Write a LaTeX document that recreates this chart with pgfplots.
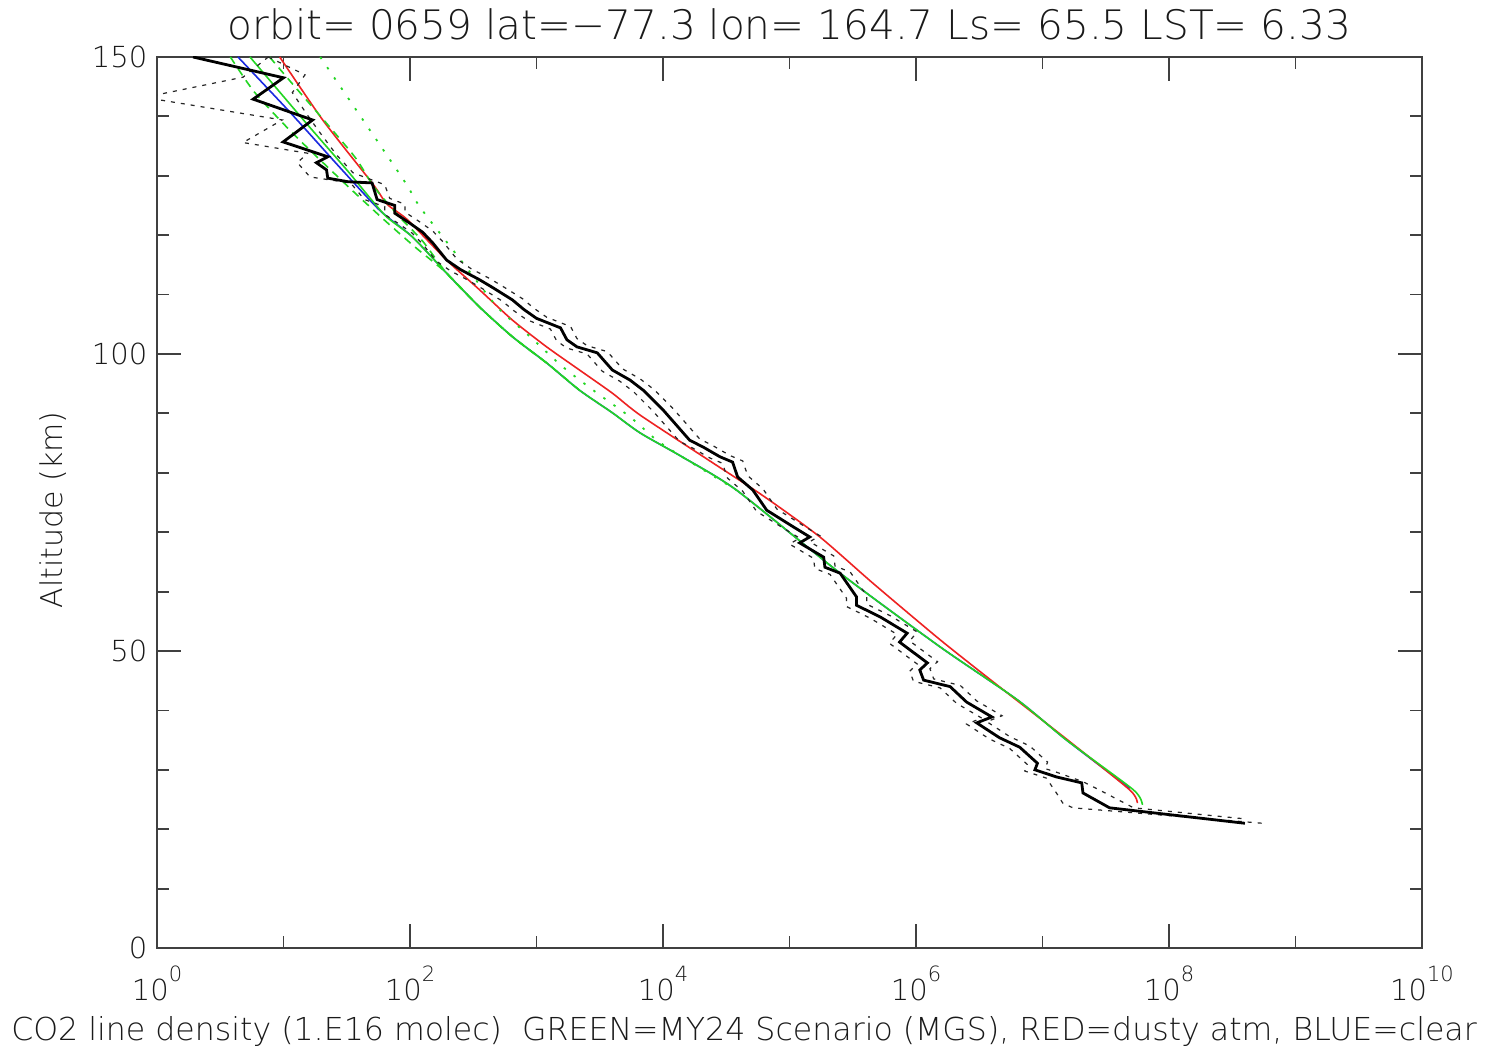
\documentclass[border=0pt]{standalone}
\usepackage{pgfplots}
\pgfplotsset{compat=1.18}
\usepackage{pgfplotstable}
\usepackage{fontspec}
\setmainfont{DejaVu Sans ExtraLight}
\definecolor{txt}{HTML}{1A1A1A}
\definecolor{cgreen}{HTML}{22D622}
\definecolor{cred}{HTML}{EE2222}
\definecolor{cblue}{HTML}{1A2AE0}
\newcommand\sx[1]{\raisebox{9.5pt}{\fontsize{10.5}{12}\selectfont #1}}

\pgfplotstableread{
lg alt
0.285 150.0
1.00 146.5
0.76 142.9
1.23 139.4
0.997 135.7
1.35 133.2
1.26 132.2
1.34 131.0
1.35 129.6
1.51 129.0
1.70 128.8
1.74 126.0
1.88 125.0
1.88 123.7
2.00 122.0
2.10 120.5
2.18 118.7
2.29 115.8
2.40 114.2
2.55 112.5
2.66 111.1
2.81 109.1
2.90 107.5
3.00 106.0
3.19 104.4
3.24 102.4
3.32 101.2
3.48 100.2
3.55 98.5
3.60 97.3
3.74 95.6
3.85 93.8
4.00 90.6
4.21 85.5
4.32 84.3
4.45 82.7
4.55 81.8
4.59 79.3
4.71 77.1
4.82 73.7
5.03 70.9
5.16 69.2
5.08 68.2
5.27 65.8
5.28 64.1
5.40 63.1
5.53 59.1
5.53 57.7
5.72 55.7
5.93 53.0
5.87 51.5
6.09 48.0
6.03 46.8
6.06 45.1
6.27 44.0
6.40 41.4
6.60 38.9
6.48 37.9
6.66 35.4
6.82 33.8
6.96 31.1
6.94 30.0
7.11 28.8
7.31 27.8
7.32 26.1
7.53 23.6
8.60 21.0
}\tblack

\pgfplotstableread{
lg alt
0.88 150.0
1.17 147.0
1.07 144.0
1.18 140.5
1.28 137.5
1.42 133.5
1.55 130.5
1.80 128.5
1.84 126.2
1.96 125.2
1.96 123.9
2.08 122.2
2.18 120.7
2.26 118.9
2.37 116.0
2.48 114.4
2.63 112.7
2.74 111.3
2.89 109.3
2.98 107.7
3.08 106.2
3.27 104.6
3.32 102.6
3.40 101.4
3.56 100.4
3.63 98.7
3.68 97.5
3.82 95.8
3.93 94.0
4.08 90.8
4.29 85.7
4.40 84.5
4.53 82.9
4.63 82.0
4.67 79.5
4.79 77.3
4.90 73.9
5.11 71.1
5.24 69.4
5.16 68.4
5.35 66.0
5.36 64.3
5.48 63.3
5.61 59.3
5.61 57.9
5.80 55.9
6.01 53.2
5.95 51.7
6.17 48.2
6.11 47.0
6.14 45.3
6.35 44.2
6.48 41.6
6.68 39.1
6.56 38.1
6.74 35.6
6.90 34.0
7.04 31.3
7.02 30.2
7.11 29.6
7.32 28.0
7.45 26.6
7.63 24.6
7.72 23.6
8.62 21.7
}\tupper

\pgfplotstableread{
lg alt
0.88 150.0
0.68 146.6
-0.1 143.2
0.99 139.4
0.68 135.6
1.19 133.8
1.11 132.2
1.21 129.8
1.53 128.8
1.64 126.0
1.80 124.8
1.80 123.5
1.92 121.8
2.02 120.3
2.10 118.5
2.21 115.6
2.32 114.0
2.47 112.3
2.58 110.9
2.73 108.9
2.82 107.3
2.92 105.8
3.11 104.2
3.16 102.2
3.24 101.0
3.40 100.0
3.47 98.3
3.52 97.1
3.66 95.4
3.77 93.6
3.92 90.4
4.13 85.3
4.24 84.1
4.37 82.5
4.47 81.6
4.51 79.1
4.63 76.9
4.74 73.5
4.95 70.7
5.08 69.0
5.00 68.0
5.19 65.6
5.20 63.9
5.32 62.9
5.45 58.9
5.45 57.5
5.64 55.5
5.85 52.8
5.79 51.3
6.01 47.8
5.95 46.6
5.98 44.9
6.19 43.8
6.32 41.2
6.52 38.7
6.40 37.7
6.58 35.2
6.74 33.6
6.88 30.9
6.86 29.8
7.03 28.6
7.11 26.1
7.16 24.4
7.24 23.6
8.74 21.0
}\tlower

\pgfplotstableread{
lg alt
0.64 150.0
1.06 140.5
1.42 132.0
1.76 124.2
2.02 119.7
2.29 113.6
2.55 107.9
2.81 102.9
3.08 98.5
3.34 93.9
3.60 90.1
3.82 86.7
4.15 82.7
4.58 77.1
5.40 63.1
6.19 50.7
6.80 41.8
7.19 35.0
7.69 26.9
}\tblue

\pgfplotstableread{
lg alt
0.97 150.0
1.31 139.4
1.70 128.8
1.82 125.2
1.98 122.6
2.29 115.8
2.55 110.8
2.81 105.7
3.08 101.2
3.34 97.3
3.60 93.4
3.82 89.7
4.37 82.0
4.80 76.0
5.24 69.2
5.66 61.4
6.19 51.9
6.64 44.3
7.20 35.0
7.69 26.6
7.75 24.4
}\tred

\pgfplotstableread{
lg alt
0.735 150.0
1.17 139.1
1.50 131.0
1.80 123.4
2.02 119.7
2.29 113.6
2.55 107.9
2.81 102.9
3.08 98.5
3.34 93.9
3.60 90.1
3.82 86.7
4.15 82.7
4.58 77.1
5.40 63.1
6.19 50.7
6.80 41.8
7.19 35.0
7.72 26.6
7.79 24.1
}\tgreen

\pgfplotstableread{
lg alt
0.58 150.0
0.77 144.1
1.08 137.0
1.52 128.0
1.80 122.5
2.04 118.0
2.29 113.6
2.55 107.9
2.81 102.9
3.08 98.5
3.34 93.9
}\tgreenA

\pgfplotstableread{
lg alt
0.89 150.0
1.09 145.0
1.35 138.6
1.57 133.0
1.72 128.0
1.92 123.0
2.10 119.0
2.29 113.6
2.55 107.9
2.81 102.9
3.08 98.5
}\tgreenB

\pgfplotstableread{
lg alt
1.29 150.0
1.94 129.6
2.08 124.7
2.42 115.3
2.69 107.9
2.95 102.9
3.21 97.8
3.48 93.4
3.74 89.4
3.95 85.5
4.15 82.7
4.58 77.1
}\tgreenC

\begin{document}
\begin{tikzpicture}
\useasboundingbox[fill=white] (0,0) rectangle (743.5pt,525pt);
\begin{axis}[
  at={(78.5pt,51pt)}, anchor=south west,
  scale only axis, width=632.5pt, height=445.5pt,
  xmode=log, xmin=1, xmax=1e10, ymin=0, ymax=150,
  xtick={1,100,1e4,1e6,1e8,1e10},
  xticklabels={{10\sx{0}},{10\sx{2}},{10\sx{4}},{10\sx{6}},{10\sx{8}},{10\sx{10}}},
  minor xtick={10,1e3,1e5,1e7,1e9},
  ytick={0,50,100,150},
  minor ytick={10,20,30,40,60,70,80,90,110,120,130,140},
  tick align=inside,
  major tick length=12pt, minor tick length=6pt,
  axis line style={draw=black!75, line width=0.9pt},
  tick style={black!75, line width=0.9pt},
  tick label style={font=\fontsize{14.5}{16}\selectfont, text=txt},
  xticklabel style={anchor=base, yshift=-26pt},
  yticklabel style={xshift=-1.3pt},
  /pgf/number format/assume math mode=true,
  clip=true,
]
\addplot[cblue, line width=0.8pt, smooth, tension=0.4] table[x expr=10^\thisrow{lg}, y=alt] {\tblue};
\addplot[cred, line width=0.8pt, smooth, tension=0.4] table[x expr=10^\thisrow{lg}, y=alt] {\tred};
\addplot[cgreen, line width=0.8pt, dash pattern=on 4pt off 3pt, smooth, tension=0.4] table[x expr=10^\thisrow{lg}, y=alt] {\tgreenA};
\addplot[cgreen, line width=0.8pt, dash pattern=on 4pt off 3pt, smooth, tension=0.4] table[x expr=10^\thisrow{lg}, y=alt] {\tgreenB};
\addplot[cgreen, line width=0.9pt, dash pattern=on 1.2pt off 5pt, smooth, tension=0.4] table[x expr=10^\thisrow{lg}, y=alt] {\tgreenC};
\addplot[cgreen, line width=0.8pt, smooth, tension=0.4] table[x expr=10^\thisrow{lg}, y=alt] {\tgreen};
\addplot[black!85, line width=0.6pt, dash pattern=on 2pt off 3pt] table[x expr=10^\thisrow{lg}, y=alt] {\tupper};
\addplot[black!85, line width=0.6pt, dash pattern=on 2pt off 3pt] table[x expr=10^\thisrow{lg}, y=alt] {\tlower};
\addplot[black, line width=1.4pt] table[x expr=10^\thisrow{lg}, y=alt] {\tblack};
\end{axis}
\node[anchor=base, text=txt, font=\fontsize{20.3}{24}\selectfont] at (394.75pt,505pt) {orbit= 0659 lat=−77.3 lon= 164.7 Ls= 65.5 LST= 6.33};
\node[anchor=base, text=txt, font=\fontsize{15.8}{18}\selectfont] at (372pt,5pt) {CO2 line density (1.E16 molec)\ \ GREEN=MY24 Scenario (MGS), RED=dusty atm, BLUE=clear};
\node[rotate=90, anchor=base, text=txt, font=\fontsize{15}{18}\selectfont] at (31pt,270pt) {Altitude (km)};
\end{tikzpicture}
\end{document}
